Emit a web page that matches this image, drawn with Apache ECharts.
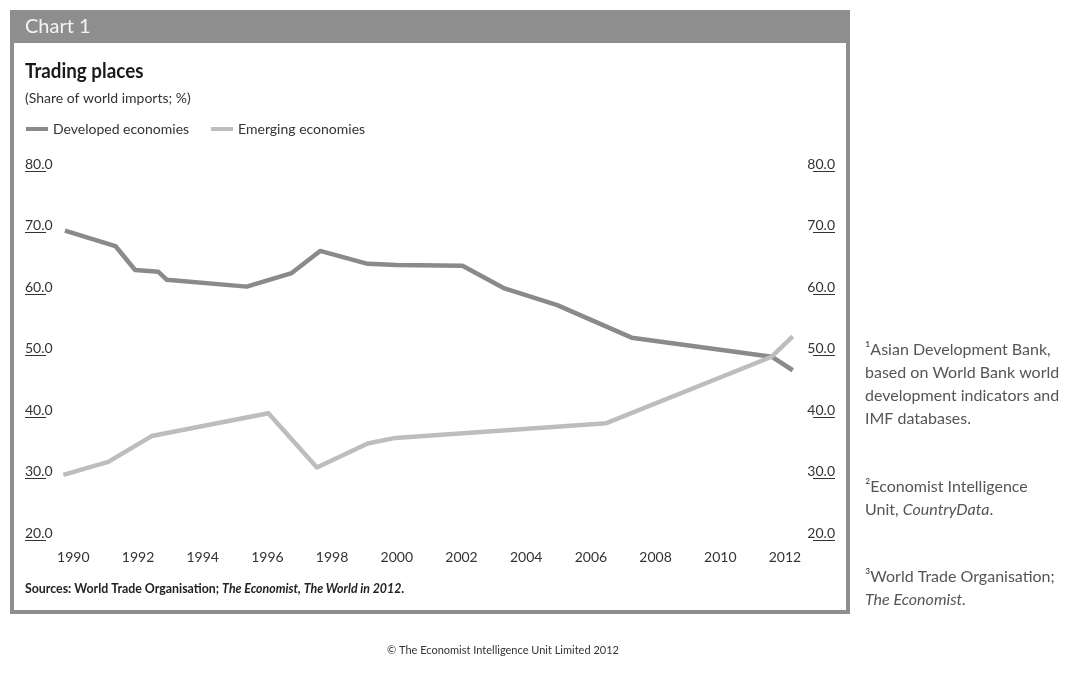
<!DOCTYPE html>
<html><head><meta charset="utf-8">
<script src="https://cdn.jsdelivr.net/npm/echarts@6/dist/echarts.min.js"></script>
<style>html,body{margin:0;padding:0;background:#fff}#c{width:1065px;height:673px}</style>
</head><body><div id="c"></div>
<script>
// ---- data ----
const seriesNames = ['Developed economies', 'Emerging economies'];
const developedYears  = [1989.74, 1991.30, 1991.91, 1992.63, 1992.89, 1995.36, 1996.75, 1997.63, 1999.10, 2000.0, 2002.03, 2003.33, 2004.96, 2007.26, 2011.59, 2012.24];
const developedValues = [70.3,    67.8,    63.9,    63.6,    62.3,    61.2,    63.4,    67.0,    64.9,    64.7,   64.6,    60.9,    58.2,    52.9,    49.8,    47.6];
const emergingYears   = [1989.69, 1991.08, 1992.42, 1996.03, 1997.53, 1999.10, 1999.95, 2006.48, 2011.59, 2012.24];
const emergingValues  = [30.6,    32.7,    36.9,    40.6,    31.8,    35.7,    36.6,    39.0,    49.8,    53.1];
const xTickYears = [1990, 1992, 1994, 1996, 1998, 2000, 2002, 2004, 2006, 2008, 2010, 2012];
const yTickValues = [20, 30, 40, 50, 60, 70, 80];

const FONT = 'Lato, "Open Sans", sans-serif';
const zip = (xs, ys) => xs.map((x, i) => [x, ys[i]]);

const chart = echarts.init(document.getElementById('c'), null, { renderer: 'canvas' });
const yAxisCommon = {
  type: 'value', min: yTickValues[0], max: yTickValues[yTickValues.length - 1], interval: 10,
  axisLine: { show: false }, splitLine: { show: false },
};
chart.setOption({
  animation: false,
  backgroundColor: '#ffffff',
  grid: { left: 41, right: 247.7, top: 171, bottom: 133 },
  xAxis: {
    type: 'value', min: 1989, max: 2013, interval: 1,
    axisLine: { show: false }, axisTick: { show: false }, splitLine: { show: false },
    axisLabel: {
      margin: 10, fontSize: 14, color: '#333', fontFamily: FONT,
      showMinLabel: false, showMaxLabel: false,
      formatter: v => xTickYears.includes(v) ? String(v) : ''
    }
  },
  yAxis: [
    Object.assign({}, yAxisCommon, {
      position: 'left', offset: 16,
      axisTick: { show: true, inside: true, length: 21, lineStyle: { color: '#333', width: 1 } },
      axisLabel: { inside: true, margin: 0, align: 'left', verticalAlign: 'bottom', fontSize: 14, color: '#333', fontFamily: FONT, formatter: v => v.toFixed(1) }
    }),
    Object.assign({}, yAxisCommon, {
      position: 'right', offset: 17.7,
      axisTick: { show: true, inside: true, length: 22, lineStyle: { color: '#333', width: 1 } },
      axisLabel: { inside: true, margin: 0, align: 'right', verticalAlign: 'bottom', fontSize: 14, color: '#333', fontFamily: FONT, formatter: v => v.toFixed(1) }
    })
  ],
  legend: {
    left: 26, top: 122, padding: 0, itemWidth: 22, itemHeight: 4, itemGap: 22, icon: 'rect',
    textStyle: { fontSize: 14, color: '#333', fontFamily: FONT },
    data: seriesNames
  },
  series: [
    { name: seriesNames[0], type: 'line', yAxisIndex: 0, showSymbol: false, symbol: 'none',
      color: '#8a8a8a', lineStyle: { width: 4.5, color: '#8a8a8a', join: 'round' },
      data: zip(developedYears, developedValues) },
    { name: seriesNames[1], type: 'line', yAxisIndex: 0, showSymbol: false, symbol: 'none',
      color: '#bdbdbd', lineStyle: { width: 4.5, color: '#bdbdbd', join: 'round' },
      data: zip(emergingYears, emergingValues) }
  ],
  graphic: [
    { type: 'rect', z: -1, shape: { x: 12, y: 41, width: 836, height: 571 }, style: { fill: 'none', stroke: '#8e8e8e', lineWidth: 4 } },
    { type: 'rect', shape: { x: 10, y: 10, width: 840, height: 33 }, style: { fill: '#8e8e8e' } },
    { type: 'text', x: 25, y: 27, style: { text: 'Chart 1', fontFamily: FONT, fontSize: 20, fill: '#f4f4f4', textVerticalAlign: 'middle' } },
    { type: 'text', x: 25, y: 72, scaleX: 0.94, style: { text: 'Trading places', fontFamily: FONT, fontSize: 20, fontWeight: 'bold', fill: '#1a1a1a', textVerticalAlign: 'middle' } },
    { type: 'text', x: 25, y: 98, style: { text: '(Share of world imports; %)', fontFamily: FONT, fontSize: 14, fill: '#333', textVerticalAlign: 'middle' } },
    { type: 'text', x: 25, y: 589, scaleX: 0.95, style: {
        text: '{b|Sources: World Trade Organisation; }{i|The Economist, The World in 2012}{b|.}',
        textVerticalAlign: 'middle',
        rich: {
          b: { fontFamily: FONT, fontSize: 13, fontWeight: 'bold', fill: '#222' },
          i: { fontFamily: FONT, fontSize: 13, fontWeight: 'bold', fontStyle: 'italic', fill: '#222' }
        } } },
    { type: 'text', x: 503, y: 650, style: { text: '\u00A9 The Economist Intelligence Unit Limited 2012', fontFamily: FONT, fontSize: 11, fill: '#333', textAlign: 'center', textVerticalAlign: 'middle' } },
    { type: 'text', x: 865, y: 350, style: { text: '\u00B9Asian Development Bank,', fontFamily: FONT, fontSize: 16, fill: '#555', textVerticalAlign: 'middle' } },
    { type: 'text', x: 865, y: 373, style: { text: 'based on World Bank world', fontFamily: FONT, fontSize: 16, fill: '#555', textVerticalAlign: 'middle' } },
    { type: 'text', x: 865, y: 396, style: { text: 'development indicators and', fontFamily: FONT, fontSize: 16, fill: '#555', textVerticalAlign: 'middle' } },
    { type: 'text', x: 865, y: 419, style: { text: 'IMF databases.', fontFamily: FONT, fontSize: 16, fill: '#555', textVerticalAlign: 'middle' } },
    { type: 'text', x: 865, y: 487, style: { text: '\u00B2Economist Intelligence', fontFamily: FONT, fontSize: 16, fill: '#555', textVerticalAlign: 'middle' } },
    { type: 'text', x: 865, y: 510, style: {
        text: '{n|Unit, }{i|CountryData}{n|.}', textVerticalAlign: 'middle',
        rich: {
          n: { fontFamily: FONT, fontSize: 16, fill: '#555' },
          i: { fontFamily: FONT, fontSize: 16, fontStyle: 'italic', fill: '#555' }
        } } },
    { type: 'text', x: 865, y: 577, style: { text: '\u00B3World Trade Organisation;', fontFamily: FONT, fontSize: 16, fill: '#555', textVerticalAlign: 'middle' } },
    { type: 'text', x: 865, y: 600, style: { text: 'The Economist.', fontFamily: FONT, fontSize: 16, fontStyle: 'italic', fill: '#555', textVerticalAlign: 'middle' } }
  ]
});
</script>
</body></html>
